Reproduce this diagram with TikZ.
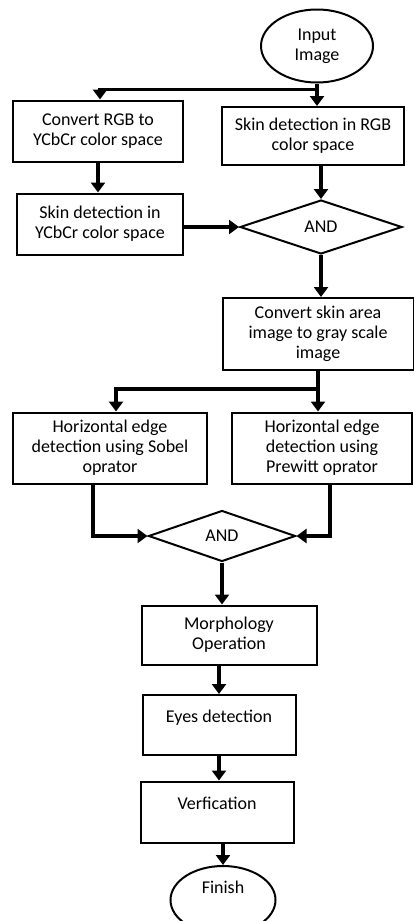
\documentclass[tikz,border=0pt]{standalone}
\usepackage{fontspec}
\setmainfont{Carlito}
\usetikzlibrary{shapes.geometric, arrows.meta}
\tikzstyle{startstop} =[ellipse, minimum width =112pt, minimum height=73pt, inner sep=0pt, align=center, draw=black, line width=2pt, fill=white]
\tikzstyle{process} =[rectangle, minimum width= 170pt, minimum height =60pt, inner sep=2pt, align=center, draw=black, line width=2pt, fill=white]
\tikzstyle{decision} =[diamond, aspect=3, minimum width =162pt, minimum height =54pt, inner sep=0pt, align=center, draw=black, line width=2pt, fill=white]
\tikzstyle{arrow} =[line width=3.2pt, -{Triangle[length=10pt, width=14pt]}]

\begin{document}
\begin{tikzpicture}[x=1pt, y=1pt, node distance=90pt, font=\fontsize{18}{20}\selectfont]
\useasboundingbox (0,0) rectangle (414,-921);
\node (start) [startstop] at (317,-46) {Input\\Image};
\node (pro2) [process, below of=start, xshift=-4pt, minimum width=182pt, minimum height=58pt] {Skin detection in RGB\\color space};
\node (pro1) [process, left of=pro2, xshift=-125pt, yshift=5pt, minimum height=61pt] {Convert RGB to\\YCbCr color space};
\node (dec1) [decision, below of=pro2, xshift=8pt, yshift=-1pt] {AND};
\node (pro3) [process, left of=dec1, xshift=-131pt, yshift=3pt, minimum width=166pt, minimum height=61pt] {Skin detection in\\YCbCr color space};
\node (pro4) [process, below of=dec1, xshift=-3pt, yshift=-17pt, minimum width=191pt, minimum height=72pt] {Convert skin area\\image to gray scale\\image};
\node (pro6) [process, below of=pro4, xshift=4pt, yshift=-24pt, minimum width=180pt, minimum height=71pt] {Horizontal edge\\detection using\\Prewitt oprator};
\node (pro5) [process, left of=pro6, xshift=-122pt, minimum width=194pt, minimum height=71pt] {Horizontal edge\\detection using Sobel\\oprator};
\node (dec2) [decision, below of=pro6, xshift=-100pt, yshift=2pt, minimum width=147pt, minimum height=51pt] {AND};
\node (pro7) [process, below of=dec2, xshift=7pt, yshift=-9pt, minimum width=175pt, minimum height=59pt] {Morphology\\Operation};
\node (pro8) [process, below of=pro7, xshift=-10pt, minimum width=153pt, text depth=18pt] {Eyes detection};
\node (pro9) [process, below of=pro8, xshift=-2pt, yshift=3pt, minimum width=153pt, minimum height=61pt, text depth=18pt] {Verfication};
\node (stop) [startstop, below of=pro9, xshift=6pt, yshift=2pt, minimum width=105pt, minimum height=68pt, text depth=25pt] {Finish};

\coordinate (s1) at ([yshift=-6pt]start.south);
\coordinate (s2) at ([yshift=-18pt]pro4.south);
\draw [arrow] (start.south)--(start.south |- pro2.north);
\draw [arrow] (s1)-|([xshift=2pt]pro1.north);
\draw [arrow] (pro1.south)--(pro1.south |- pro3.north);
\draw [arrow] (pro3.east |- dec1.west)--(dec1.west);
\draw [arrow] (pro2.south -| dec1.north)--(dec1.north);
\draw [arrow] (dec1.south)--(dec1.south |- pro4.north);
\draw [arrow] (pro4.south)--(pro4.south |- pro6.north);
\draw [arrow] (s2)-|([xshift=6pt]pro5.north);
\draw [arrow] ([xshift=-17pt]pro5.south)|-(dec2.west);
\draw [arrow] ([xshift=8pt]pro6.south)|-(dec2.east);
\draw [arrow] (dec2.south)--(dec2.south |- pro7.north);
\draw [arrow] (pro8.north |- pro7.south)--(pro8.north);
\draw [arrow] (pro8.south)--(pro8.south |- pro9.north);
\draw [arrow] (stop.north |- pro9.south)--(stop.north);
\end{tikzpicture}
\end{document}
